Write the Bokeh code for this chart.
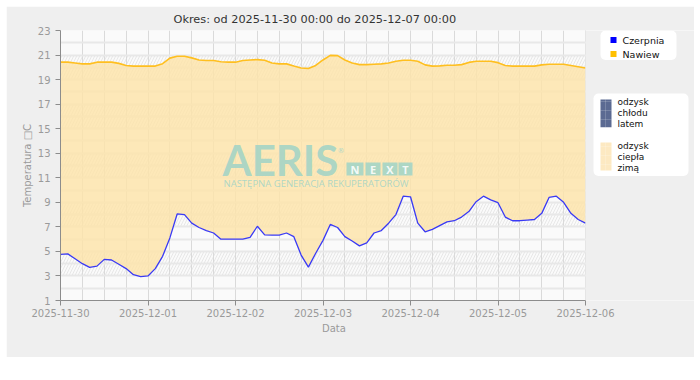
from datetime import datetime, timedelta
from bokeh.plotting import figure
from bokeh.layouts import column, row
from bokeh.models import (Range1d, FixedTicker, DatetimeTickFormatter, Label, BoxAnnotation,
                          Title, Spacer)
from bokeh.embed import file_html
from bokeh.resources import INLINE

# ---------------- data ----------------
start = datetime(2025, 11, 30)
hours = list(range(0, 145, 2))
czerpnia = [4.75, 4.8, 4.4, 4.0, 3.7, 3.8, 4.35, 4.3, 3.95, 3.6, 3.1, 2.95,
            3.0, 3.6, 4.6, 6.1, 8.05, 8.0, 7.3, 6.95, 6.7, 6.5, 6.0, 6.0,
            6.0, 6.0, 6.15, 7.05, 6.35, 6.33, 6.33, 6.5, 6.2, 4.7, 3.72, 4.85,
            5.9, 7.2, 6.95, 6.2, 5.85, 5.45, 5.7, 6.5, 6.7, 7.3, 8.0, 9.5,
            9.45, 7.3, 6.6, 6.8, 7.1, 7.4, 7.5, 7.8, 8.25, 9.05, 9.5, 9.2,
            8.97, 7.8, 7.5, 7.5, 7.55, 7.6, 8.1, 9.4, 9.5, 9.0, 8.1, 7.6, 7.3]
nawiew = [20.42, 20.42, 20.35, 20.28, 20.28, 20.42, 20.42, 20.42, 20.32, 20.15, 20.1, 20.1,
          20.1, 20.1, 20.3, 20.75, 20.9, 20.9, 20.77, 20.6, 20.55, 20.55, 20.45, 20.42,
          20.42, 20.55, 20.6, 20.63, 20.58, 20.35, 20.28, 20.28, 20.1, 19.95, 19.9, 20.15,
          20.6, 20.97, 20.95, 20.6, 20.35, 20.22, 20.22, 20.25, 20.28, 20.35, 20.5, 20.58,
          20.58, 20.5, 20.2, 20.1, 20.12, 20.17, 20.17, 20.22, 20.4, 20.5, 20.5, 20.5,
          20.38, 20.15, 20.1, 20.1, 20.1, 20.1, 20.2, 20.25, 20.25, 20.25, 20.15, 20.05, 19.95]
day_labels = ["2025-11-30", "2025-12-01", "2025-12-02", "2025-12-03",
              "2025-12-04", "2025-12-05", "2025-12-06"]
y_ticks = [1, 3, 5, 7, 9, 11, 13, 15, 17, 19, 21, 23]
y_minor = [2, 4, 6, 8, 10, 12, 14, 16, 18, 20, 22]
title_text = "Okres: od 2025-11-30 00:00 do 2025-12-07 00:00"
series_names = ["Czerpnia", "Nawiew"]
legend2_a = ["odzysk", "chłodu", "latem"]
legend2_b = ["odzysk", "ciepła", "zimą"]

# ---------------- layout constants ----------------
PLOT_W = 525          # width of the plotted area in px
EXTRA_W = 109         # legend area to the right of the plotted area

times = [start + timedelta(hours=h) for h in hours]
t0 = start
t1 = start + timedelta(days=len(day_labels) - 1)
t_end = t1 + (t1 - t0) * (EXTRA_W / PLOT_W)

def ms(d):
    return (d - datetime(1970, 1, 1)).total_seconds() * 1000.0

day_ms = [ms(start + timedelta(days=i)) for i in range(len(day_labels))]
six_ms = [ms(start + timedelta(hours=6 * i)) for i in range(4 * (len(day_labels) - 1) + 1)]
bands_bottom = [y_ticks[i] for i in range(1, len(y_ticks) - 1, 2)]
bands_top = [y_ticks[i + 1] for i in range(1, len(y_ticks) - 1, 2)]

FONT = "DejaVu Sans"
GREY = "#9a9a9a"
PANEL = "#efefef"

p = figure(width=54 + PLOT_W + EXTRA_W, height=351, x_axis_type="datetime",
           x_range=Range1d(t0, t_end), y_range=Range1d(y_ticks[0], y_ticks[-1]),
           output_backend="svg", toolbar_location=None,
           min_border_left=54, min_border_right=0, min_border_top=24, min_border_bottom=57,
           background_fill_color="#fafafa", border_fill_color=PANEL)
p.outline_line_color = None
p.title.text = title_text
p.title.align = "left"
p.title.offset = 113
p.title.standoff = 9
p.title.text_font = FONT
p.title.text_font_size = "11.3px"
p.title.text_font_style = "normal"
p.title.text_color = "#333333"

xt = FixedTicker(ticks=day_ms, minor_ticks=six_ms)
yt = FixedTicker(ticks=y_ticks, minor_ticks=y_minor)
p.xaxis.ticker = xt
p.yaxis.ticker = yt
p.xgrid.ticker = xt
p.ygrid.ticker = yt
p.xaxis.formatter = DatetimeTickFormatter(days="%Y-%m-%d", hours="%Y-%m-%d", months="%Y-%m-%d")
p.xaxis.major_label_overrides = {m: lab for m, lab in zip(day_ms, day_labels)}
p.xaxis.bounds = (ms(t0), ms(t1))

p.xgrid.grid_line_color = "#dadada"
p.xgrid.minor_grid_line_color = "#dadada"
p.ygrid.grid_line_color = "#e8e8e8"
p.ygrid.grid_line_width = 2
p.ygrid.minor_grid_line_color = "#e8e8e8"
p.ygrid.minor_grid_line_width = 2

for ax in (p.xaxis, p.yaxis):
    ax.axis_line_color = "#8c8c8c"
    ax.major_tick_line_color = "#8c8c8c"
    ax.major_tick_in = 0
    ax.major_tick_out = 5
    ax.minor_tick_line_color = None
    ax.major_label_text_font = FONT
    ax.major_label_text_font_size = "10px"
    ax.major_label_text_color = GREY
    ax.axis_label_text_font = FONT
    ax.axis_label_text_font_size = "10px"
    ax.axis_label_text_color = GREY
    ax.axis_label_text_font_style = "normal"
p.xaxis.major_label_standoff = 3
p.yaxis.major_label_standoff = 5
p.yaxis.axis_label = "Temperatura \u25a1C"
p.yaxis.axis_label_standoff = 2

# x-axis label, placed under the centre of the plotted area
p.add_layout(Title(text="Data", align="left", offset=PLOT_W / 2 - 1, standoff=2,
                   text_font=FONT, text_font_size="10px", text_font_style="normal",
                   text_color=GREY), "below")

# hatched bands
p.quad(left=[t0] * len(bands_bottom), right=[t1] * len(bands_bottom),
       bottom=bands_bottom, top=bands_top,
       fill_alpha=0, line_alpha=0, hatch_pattern="/", hatch_color="#e2e2e2",
       hatch_scale=6, hatch_weight=0.8, level="underlay")

# fill between and lines
p.varea(x=times, y1=czerpnia, y2=nawiew, fill_color="#fee3a7", fill_alpha=0.8)
p.line(times, nawiew, line_color="#ffbf1f", line_width=1.6)
p.line(times, czerpnia, line_color="#3a3af5", line_width=1.3)

# grey cover for the legend area to the right of the plotted area
p.add_layout(BoxAnnotation(left=t1, fill_color=PANEL, fill_alpha=1.0, line_color=None))


def sbox(l, r, b, t, color, radius=0, alpha=1.0, hatch=None):
    kw = {}
    if hatch:
        kw = dict(hatch_pattern=hatch, hatch_color="#ffffff", hatch_alpha=0.25,
                  hatch_scale=9, hatch_weight=0.7)
    p.add_layout(BoxAnnotation(left=l, right=r, bottom=b, top=t,
                               left_units="screen", right_units="screen",
                               bottom_units="screen", top_units="screen",
                               fill_color=color, fill_alpha=alpha, line_color=None,
                               border_radius=radius, **kw))


def slabel(x, y, txt, size="9.5px", color="#111111", font=FONT, style="normal",
           align="left", alpha=1.0):
    p.add_layout(Label(x=x, y=y, x_units="screen", y_units="screen", text=txt,
                       text_font=font, text_font_size=size, text_color=color,
                       text_font_style=style, text_align=align, text_alpha=alpha,
                       text_baseline="middle"))


# watermark
TEAL = "#9fd3c7"
slabel(162, 140.5, "AERIS", size="42px", color=TEAL, font="Lato", style="bold", alpha=0.85)
slabel(277, 150, "\u00ae", size="7px", color=TEAL, alpha=0.85)
for l, r, ch in [(286, 303, "N"), (305, 320, "E"), (322, 337, "X"), (338, 352, "T")]:
    sbox(l, r, 125, 138, TEAL, alpha=0.85)
    slabel((l + r) / 2, 131.5, ch, size="11px", color="#ffffff", font="Open Sans",
           style="bold", align="center", alpha=0.9)
slabel(163, 117, "NASTĘPNA GENERACJA REKUPERATORÓW", size="9.5px", color=TEAL,
       font="Open Sans", alpha=0.85)

# legend 1
sbox(540, 616, 240.5, 270, "#ffffff", radius=5)
sbox(550, 556, 257.5, 263.5, "#0000ff")
sbox(550, 556, 243.5, 249.5, "#ffc000")
slabel(562, 260.5, series_names[0])
slabel(562, 246.5, series_names[1])

# legend 2
sbox(533, 628, 124.5, 207, "#ffffff", radius=5)
sbox(540, 551, 173.3, 201, "#5b6a92", hatch="+")
sbox(540, 551, 130, 158, "#fde9c2", hatch="+")
for k, txt in enumerate(legend2_a):
    slabel(557, 198.3 - 11 * k, txt, "9px")
for k, txt in enumerate(legend2_b):
    slabel(557, 154.3 - 10.7 * k, txt, "9px")

layout = column(Spacer(height=6), row(Spacer(width=6), p))
open("out.html", "w").write(file_html(layout, INLINE))
